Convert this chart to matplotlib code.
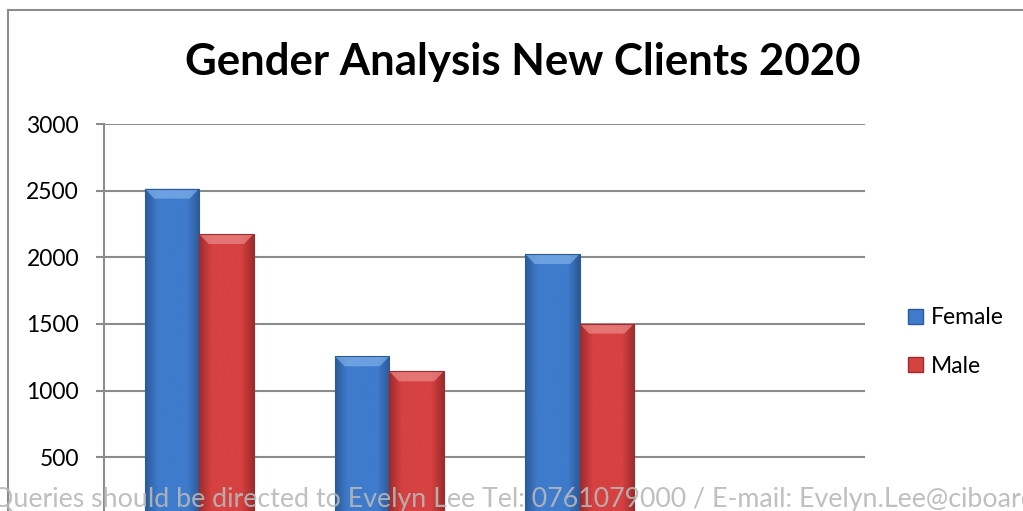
import matplotlib
matplotlib.use("Agg")
import matplotlib.pyplot as plt
import numpy as np
from matplotlib.patches import Polygon, Patch
from matplotlib.lines import Line2D
from matplotlib import font_manager

categories = ["Group 1", "Group 2", "Group 3", ""]
female = [2515, 1258, 2025, None]
male = [2175, 1145, 1503, None]
series_names = ["Female", "Male"]
y_ticks = [0, 500, 1000, 1500, 2000, 2500, 3000]
title = "Gender Analysis New Clients 2020"
note = "Queries should be directed to Evelyn Lee Tel: 0761079000 / E-mail: Evelyn.Lee@ciboard"

installed = {f.name for f in font_manager.fontManager.ttflist}
main_font = "Lato" if "Lato" in installed else "DejaVu Sans"
plt.rcParams["font.family"] = [main_font, "DejaVu Sans"]

W, H = 1023, 511
fig = plt.figure(figsize=(W / 100, H / 100), dpi=100)
ax = fig.add_axes([104 / W, 1 - 524 / H, (865 - 104) / W, (524 - 124) / H])

# outer chart border (only left and top are inside the picture)
border = dict(color="#8c8c8c", linewidth=1.5, transform=fig.transFigure)
fig.lines.append(Line2D([8 / W, 8 / W], [-0.1, 1 - 10 / H], **border))
fig.lines.append(Line2D([8 / W, 1.1], [1 - 10 / H, 1 - 10 / H], **border))

colors = {
    "Female": ("#3f7bcc", "#2c5a98", "#7fb0ea"),
    "Male": ("#d64141", "#9e2c2c", "#ec8a8a"),
}
width = 0.286
x = np.arange(len(categories))


def shade_bar(bar, base, dark, light):
    """Horizontal gradient plus a lighter top bevel, clipped to the bar."""
    x0, y0 = bar.get_x(), bar.get_y()
    w, h = bar.get_width(), bar.get_height()
    grad = np.linspace(0, 1, 64)
    prof = 1 - np.abs(grad - 0.5) * 2
    c_dark = np.array(matplotlib.colors.to_rgb(dark))
    c_base = np.array(matplotlib.colors.to_rgb(base))
    img = c_dark[None, :] + (c_base - c_dark)[None, :] * np.clip(prof * 2.2, 0, 1)[:, None]
    im = ax.imshow(img[None, :, :], extent=(x0, x0 + w, y0, y0 + h), aspect="auto",
                   zorder=2, interpolation="bilinear")
    im.set_clip_path(bar)
    bev_h = 75
    bev_w = 0.05
    top = y0 + h
    ax.add_patch(Polygon([(x0, top), (x0 + w, top), (x0 + w - bev_w, top - bev_h),
                          (x0 + bev_w, top - bev_h)], closed=True,
                         facecolor=light, edgecolor="none", alpha=0.7, zorder=3))


for name, vals, off in [("Female", female, -width / 2), ("Male", male, width / 2)]:
    base, dark, light = colors[name]
    for i, v in enumerate(vals):
        if v is None:
            continue
        b = ax.bar(x[i] + off, v, width, color=base, edgecolor=dark, linewidth=0.8, zorder=2)[0]
        shade_bar(b, base, dark, light)
        b.set_zorder(4)
        b.set_facecolor("none")

ax.set_xlim(-0.5, len(categories) - 0.5)
ax.set_ylim(0, 3000)
ax.set_yticks(y_ticks)
ax.set_yticklabels([str(t) for t in y_ticks], fontsize=16.5)
ax.set_xticks([])
ax.tick_params(axis="y", length=6, width=1.5, color="#8c8c8c", pad=12)
ax.grid(axis="y", color="#8c8c8c", linewidth=1.5, zorder=1)
ax.set_axisbelow(True)
for s in ["top", "right", "bottom"]:
    ax.spines[s].set_visible(False)
ax.spines["left"].set_color("#8c8c8c")
ax.spines["left"].set_linewidth(1.5)

fig.text(523 / W, 1 - 75 / H, title, ha="center", va="baseline",
         fontsize=31.5, fontweight="bold", color="black")

handles = [Patch(facecolor=colors[n][0], edgecolor=colors[n][1]) for n in series_names]
fig.legend(handles, series_names, loc="center left", bbox_to_anchor=(887 / W, 1 - 342 / H),
           frameon=False, fontsize=16.5, handlelength=0.65, handleheight=0.65,
           handletextpad=0.35, labelspacing=1.2)

# contact note overlaid along the bottom; sized so "...@ciboar" reaches the right edge
renderer = fig.canvas.get_renderer()
probe = fig.text(0, 0, note[:-1], fontsize=20)
probe_w = probe.get_window_extent(renderer).width
probe.remove()
note_size = 20 * 1033 / probe_w
fig.text(-8 / W, 1 - 507 / H, note, ha="left", va="baseline", fontsize=note_size,
         color="#b8b8b8", alpha=0.9, zorder=10)

fig.savefig("out.png", dpi=100)
